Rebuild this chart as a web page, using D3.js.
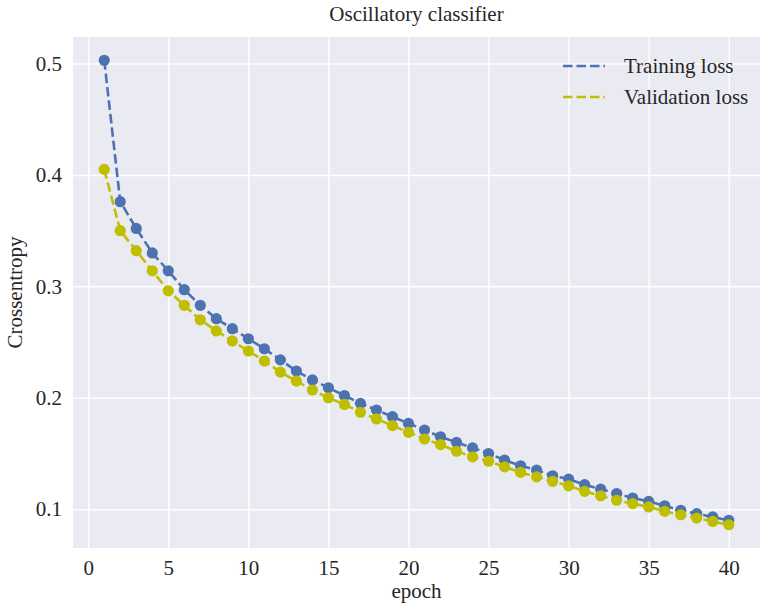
<!DOCTYPE html>
<html>
<head>
<meta charset="utf-8">
<script src="https://cdn.jsdelivr.net/npm/d3@7"></script>
<style>
  html, body { margin: 0; padding: 0; background: #fff; }
  svg { display: block; font-family: "Liberation Serif", "Times New Roman", serif; }
</style>
</head>
<body>
<svg id="chart" width="764" height="603"></svg>
<script>
// epochs 1..40
var epochs = [1,2,3,4,5,6,7,8,9,10,11,12,13,14,15,16,17,18,19,20,
              21,22,23,24,25,26,27,28,29,30,31,32,33,34,35,36,37,38,39,40];

var trainingLoss = [0.503,0.376,0.352,0.330,0.314,0.297,0.283,0.271,0.262,0.253,
                    0.244,0.234,0.224,0.216,0.209,0.202,0.195,0.189,0.183,0.177,
                    0.171,0.165,0.160,0.155,0.150,0.144,0.139,0.135,0.130,0.127,
                    0.122,0.118,0.114,0.110,0.107,0.103,0.099,0.096,0.093,0.090];

var validationLoss = [0.405,0.350,0.332,0.314,0.296,0.283,0.270,0.260,0.251,0.242,
                      0.233,0.223,0.215,0.207,0.200,0.194,0.187,0.181,0.175,0.169,
                      0.163,0.158,0.152,0.147,0.143,0.138,0.133,0.129,0.125,0.121,
                      0.116,0.112,0.108,0.105,0.102,0.098,0.095,0.092,0.089,0.086];

var xTicks = [0,5,10,15,20,25,30,35,40];
var yTicks = [0.1,0.2,0.3,0.4,0.5];

var seriesNames = ["Training loss", "Validation loss"];
var seriesColors = ["#4c72b0", "#bfbf00"];

function drawChart() {
  var svg = d3.select("#chart"),
      margin = {top: 37, right: 4, bottom: 55, left: 73},
      width = 764 - margin.left - margin.right,
      height = 603 - margin.top - margin.bottom;

  var g = svg.append("g").attr("transform", "translate(" + margin.left + "," + margin.top + ")");

  // matplotlib-like 5% margins
  var xPad = (40 - 1) * 0.05;
  var x = d3.scaleLinear()
      .domain([1 - xPad, 40 + xPad])
      .range([0, width]);

  var yMin = 0.086, yMax = 0.503, yPad = (yMax - yMin) * 0.05;
  var y = d3.scaleLinear()
      .domain([yMin - yPad, yMax + yPad])
      .range([height, 0]);

  g.append("rect")
    .attr("width", width)
    .attr("height", height)
    .attr("fill", "#eaeaf2");

  // grid
  g.append("g")
    .attr("transform", "translate(0," + height + ")")
    .call(d3.axisBottom(x).tickValues(xTicks).tickSize(-height).tickFormat(""))
    .call(function(a) { a.select(".domain").remove(); })
    .selectAll("line").attr("stroke", "#fff").attr("stroke-width", 1.5);

  g.append("g")
    .call(d3.axisLeft(y).tickValues(yTicks).tickSize(-width).tickFormat(""))
    .call(function(a) { a.select(".domain").remove(); })
    .selectAll("line").attr("stroke", "#fff").attr("stroke-width", 1.5);

  // tick labels
  var xAxis = g.append("g")
    .attr("transform", "translate(0," + height + ")")
    .call(d3.axisBottom(x).tickValues(xTicks).tickSize(0).tickPadding(12).tickFormat(d3.format("d")));
  xAxis.select(".domain").remove();
  xAxis.selectAll("text")
    .style("font-family", "Liberation Serif, serif")
    .style("font-size", "21px")
    .attr("fill", "#262626");

  var yAxis = g.append("g")
    .call(d3.axisLeft(y).tickValues(yTicks).tickSize(0).tickPadding(11).tickFormat(d3.format(".1f")));
  yAxis.select(".domain").remove();
  yAxis.selectAll("text")
    .style("font-family", "Liberation Serif, serif")
    .style("font-size", "21px")
    .attr("fill", "#262626");

  // series
  var line = d3.line()
    .x(function(d) { return x(d[0]); })
    .y(function(d) { return y(d[1]); });

  [trainingLoss, validationLoss].forEach(function(vals, i) {
    var data = epochs.map(function(e, j) { return [e, vals[j]]; });
    g.append("path")
      .datum(data)
      .attr("fill", "none")
      .attr("stroke", seriesColors[i])
      .attr("stroke-width", 2.6)
      .attr("stroke-dasharray", "9.5,4")
      .attr("d", line);
    g.append("g").selectAll("circle")
      .data(data)
      .enter().append("circle")
      .attr("cx", function(d) { return x(d[0]); })
      .attr("cy", function(d) { return y(d[1]); })
      .attr("r", 5.6)
      .attr("fill", seriesColors[i]);
  });

  // legend
  var legend = g.append("g").attr("transform", "translate(" + (width - 197) + ",29)");
  seriesNames.forEach(function(name, i) {
    var row = legend.append("g").attr("transform", "translate(0," + (i * 31) + ")");
    row.append("line")
      .attr("x1", 0).attr("x2", 42)
      .attr("stroke", seriesColors[i])
      .attr("stroke-width", 2.6)
      .attr("stroke-dasharray", "9.5,4");
    row.append("text")
      .attr("x", 61)
      .attr("y", 7)
      .attr("fill", "#262626")
      .style("font-size", "21px")
      .text(name);
  });

  // title and axis labels
  g.append("text")
    .attr("x", width / 2)
    .attr("y", -16)
    .attr("text-anchor", "middle")
    .attr("fill", "#262626")
    .style("font-size", "21px")
    .text("Oscillatory classifier");

  g.append("text")
    .attr("x", width / 2)
    .attr("y", height + 50)
    .attr("text-anchor", "middle")
    .attr("fill", "#262626")
    .style("font-size", "21px")
    .text("epoch");

  g.append("text")
    .attr("transform", "translate(" + (-51) + "," + (height / 2) + ") rotate(-90)")
    .attr("text-anchor", "middle")
    .attr("fill", "#262626")
    .style("font-size", "21px")
    .text("Crossentropy");
}

drawChart();
</script>
</body>
</html>
